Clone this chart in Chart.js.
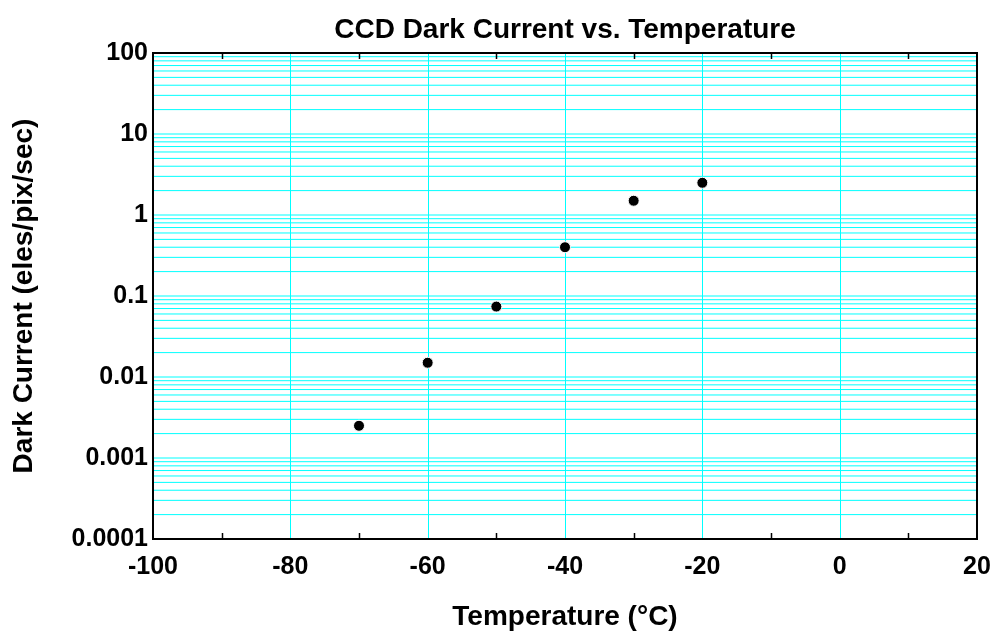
<!DOCTYPE html>
<html>
<head>
<meta charset="utf-8">
<script src="https://cdn.jsdelivr.net/npm/chart.js@4/dist/chart.umd.min.js"></script>
<style>
  html, body { margin: 0; padding: 0; background: #ffffff; }
  #wrap { width: 993px; height: 637px; }
</style>
</head>
<body>
<div id="wrap"><canvas id="c" width="993" height="637"></canvas></div>
<script>
// ---- data ----
const temperatures = [-70, -60, -50, -40, -30, -20];
const darkCurrent = [0.0025, 0.015, 0.074, 0.4, 1.5, 2.5];
const xTickValues = [-100, -80, -60, -40, -20, 0, 20];
const xMinorTicks = [-90, -70, -50, -30, -10, 10];
const yTickLabels = ['0.0001', '0.001', '0.01', '0.1', '1', '10', '100'];
const yMultipliers = [1, 2, 3, 4, 5, 6, 7, 8, 9];

const titleText = 'CCD Dark Current vs. Temperature';
const xTitle = 'Temperature (\u00B0C)';
const yTitle = 'Dark Current (eles/pix/sec)';

const FONT = '"Liberation Sans", Arial, Helvetica, sans-serif';
const GRID = '#00FFFF';

const points = temperatures.map((t, i) => ({ x: t, y: darkCurrent[i] }));

// Title centred over the plot area, grid lines, frame and minor ticks
const plotDecor = {
  id: 'plotDecor',
  afterLayout(chart) {
    const tb = chart.titleBlock;
    if (tb) { tb.left = chart.chartArea.left; tb.right = chart.chartArea.right; }
  },
  beforeDatasetsDraw(chart) {
    const { ctx, chartArea: a, scales } = chart;
    ctx.save();
    ctx.strokeStyle = GRID;
    ctx.lineWidth = 1;
    ctx.beginPath();
    scales.y.ticks.forEach(t => {
      const py = scales.y.getPixelForValue(t.value);
      if (py <= a.top + 0.5 || py >= a.bottom - 0.5) return;
      ctx.moveTo(a.left, py);
      ctx.lineTo(a.right, py);
    });
    scales.x.ticks.forEach(t => {
      const px = Math.round(scales.x.getPixelForValue(t.value)) + 0.5;
      if (px <= a.left + 1 || px >= a.right - 1) return;
      ctx.moveTo(px, a.top);
      ctx.lineTo(px, a.bottom);
    });
    ctx.stroke();
    ctx.restore();
  },
  afterDatasetsDraw(chart) {
    const { ctx, chartArea: a, scales } = chart;
    ctx.save();
    ctx.strokeStyle = '#000000';
    ctx.lineWidth = 1.5;
    ctx.beginPath();
    xMinorTicks.forEach(v => {
      const px = Math.round(scales.x.getPixelForValue(v)) + 0.5;
      ctx.moveTo(px, a.top);
      ctx.lineTo(px, a.top + 6);
      ctx.moveTo(px, a.bottom);
      ctx.lineTo(px, a.bottom - 6);
    });
    ctx.stroke();
    ctx.lineWidth = 2;
    ctx.strokeRect(a.left, a.top, a.right - a.left, a.bottom - a.top);
    ctx.restore();
  }
};

new Chart(document.getElementById('c'), {
  type: 'scatter',
  data: {
    datasets: [{
      data: points,
      backgroundColor: '#000000',
      borderColor: '#ffffff',
      borderWidth: 1,
      pointRadius: 5.5,
      pointHoverRadius: 5.5,
      showLine: false
    }]
  },
  options: {
    responsive: false,
    animation: false,
    layout: { padding: { left: 0, right: 16, top: 0, bottom: 0 } },
    plugins: {
      legend: { display: false },
      tooltip: { enabled: false },
      title: {
        display: true,
        text: titleText,
        color: '#000000',
        align: 'center',
        font: { family: FONT, size: 28, weight: 'bold' },
        padding: { top: 13, bottom: 6.4 }
      }
    },
    scales: {
      x: {
        type: 'linear',
        min: -100,
        max: 20,
        afterBuildTicks: s => { s.ticks = xTickValues.map(v => ({ value: v })); },
        afterFit: s => { s.height = 98; s.paddingLeft = 0; s.paddingRight = 0; },
        grid: { display: false, drawTicks: false },
        border: { display: false },
        ticks: {
          autoSkip: false,
          maxRotation: 0,
          padding: 13,
          color: '#000000',
          font: { family: FONT, size: 25, weight: 'bold' }
        },
        title: {
          display: true,
          text: xTitle,
          color: '#000000',
          font: { family: FONT, size: 28, weight: 'bold' },
          padding: { top: 4, bottom: 3 }
        }
      },
      y: {
        type: 'logarithmic',
        min: 0.0001,
        max: 100,
        afterBuildTicks: s => {
          const t = [];
          for (let e = 0; e < yTickLabels.length; e++) {
            const base = Number(yTickLabels[e]);
            if (e === yTickLabels.length - 1) { t.push({ value: base }); break; }
            yMultipliers.forEach(m => t.push({ value: base * m }));
          }
          s.ticks = t;
        },
        afterFit: s => { s.width = 153; s.paddingTop = 0; s.paddingBottom = 0; },
        grid: { display: false, drawTicks: false },
        border: { display: false },
        ticks: {
          autoSkip: false,
          padding: 5,
          color: '#000000',
          font: { family: FONT, size: 25, weight: 'bold' },
          callback: (value) => {
            const idx = Math.round(Math.log10(value)) + 4;
            const base = Number(yTickLabels[idx]);
            return Math.abs(value - base) / base < 1e-6 ? yTickLabels[idx] : '';
          }
        },
        title: {
          display: true,
          text: yTitle,
          color: '#000000',
          font: { family: FONT, size: 28, weight: 'bold' },
          padding: { top: 7, bottom: 4 }
        }
      }
    }
  },
  plugins: [plotDecor]
});
</script>
</body>
</html>
